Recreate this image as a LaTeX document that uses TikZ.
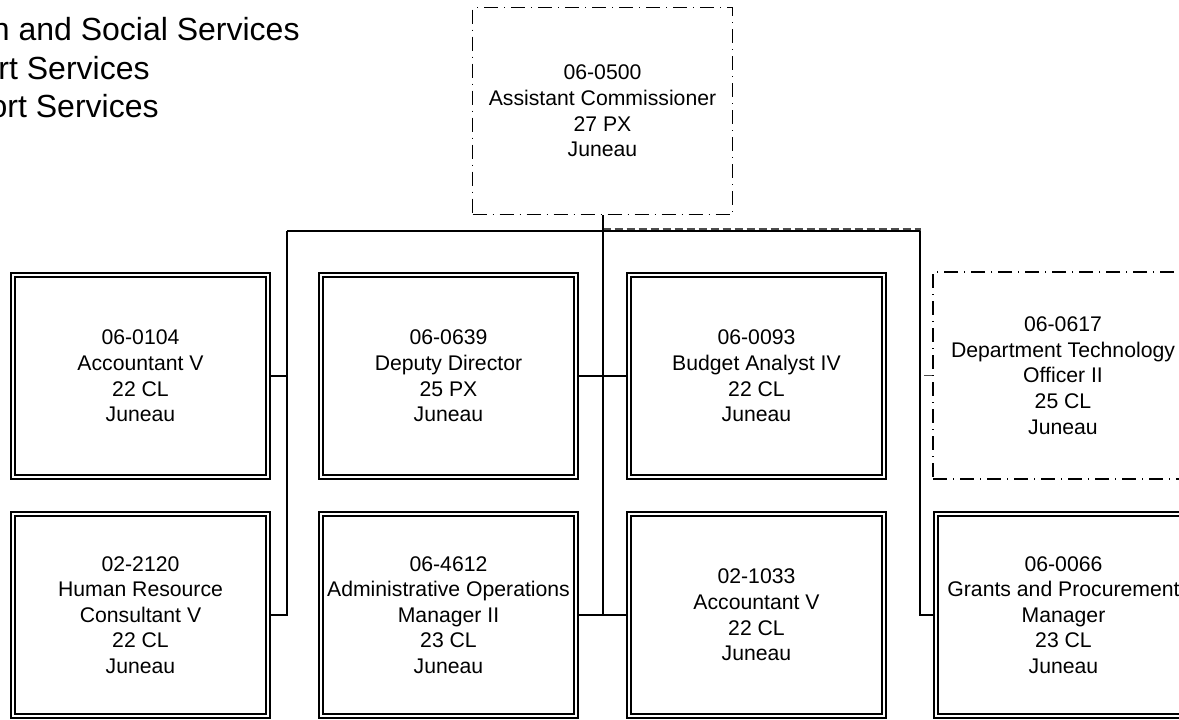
\documentclass[tikz,border=0pt]{standalone}
\usepackage{fontspec}
\setmainfont{Liberation Sans}
\usetikzlibrary{shapes,arrows}
\tikzstyle{post} = [rectangle, draw, double, line width=1pt, double distance=1pt,
    minimum width=127.5pt, minimum height=101pt, inner sep=0pt, outer sep=1.5pt,
    align=center, font=\fontsize{10.6}{12.8}\selectfont]
\tikzstyle{vacant} = [rectangle, draw, line width=0.75pt,
    dash pattern=on 7pt off 3pt on 0.5pt off 3pt,
    minimum width=130pt, minimum height=103.5pt, inner sep=0pt,
    align=center, font=\fontsize{10.6}{12.8}\selectfont]
\tikzstyle{title} = [inner sep=0pt, anchor=east, font=\fontsize{16}{19}\selectfont]
\tikzstyle{line} = [draw, line width=1pt]
\tikzstyle{dotline} = [draw, black!70, line width=0.75pt, dash pattern=on 4pt off 2pt]

\begin{document}
\begin{tikzpicture} [x=0.5pt, y=-0.5pt]
    \useasboundingbox (0,0) rectangle (1179,719);
    % Heading
    \node [title] (dept) at (300,29) {n and Social Services};
    \node [title] (div) at (150,68) {rt Services};
    \node [title] (sect) at (159,106) {ort Services};
    % Nodes
    \node [vacant] (comm) at (602.5,111) {06-0500\\Assistant Commissioner\\27 PX\\Juneau};
    \node [post] (acct) at (140.5,376) {06-0104\\Accountant V\\22 CL\\Juneau};
    \node [post] (hr) at (140.5,615) {02-2120\\Human Resource\\Consultant V\\22 CL\\Juneau};
    \node [post] (deputy) at (448.5,376) {06-0639\\Deputy Director\\25 PX\\Juneau};
    \node [post] (adminops) at (448.5,615) {06-4612\\Administrative Operations\\Manager II\\23 CL\\Juneau};
    \node [post] (budget) at (756.5,376) {06-0093\\Budget Analyst IV\\22 CL\\Juneau};
    \node [post] (acct2) at (756.5,615) {02-1033\\Accountant V\\22 CL\\Juneau};
    \node [vacant] (tech) at (1063,375.5) {06-0617\\Department Technology\\Officer II\\25 CL\\Juneau};
    \node [post] (grants) at (1063.5,615) {06-0066\\Grants and Procurement\\Manager\\23 CL\\Juneau};
    % Bus
    \coordinate (busl) at (287,231);
    \coordinate (busm) at (602.5,231);
    \coordinate (busr) at (920,231);
    % Paths
    \path [dotline] ([yshift=0.9pt]busm) -- ([yshift=0.9pt]busr) -- (busr |- tech.west) -- (tech.west);
    \path [line] (busl) -- (busr);
    \path [line] (comm.south) -- (comm.south |- adminops.east);
    \path [line] (busl) |- (hr.east);
    \path [line] (busl |- acct.east) -- (acct.east);
    \path [line] (deputy.east) -- (deputy.east -| comm.south);
    \path [line] (adminops.east) -- (adminops.east -| comm.south);
    \path [line] (budget.west -| comm.south) -- (budget.west);
    \path [line] (acct2.west -| comm.south) -- (acct2.west);
    \path [line] (busr) |- (grants.west);
\end{tikzpicture}
\end{document}
